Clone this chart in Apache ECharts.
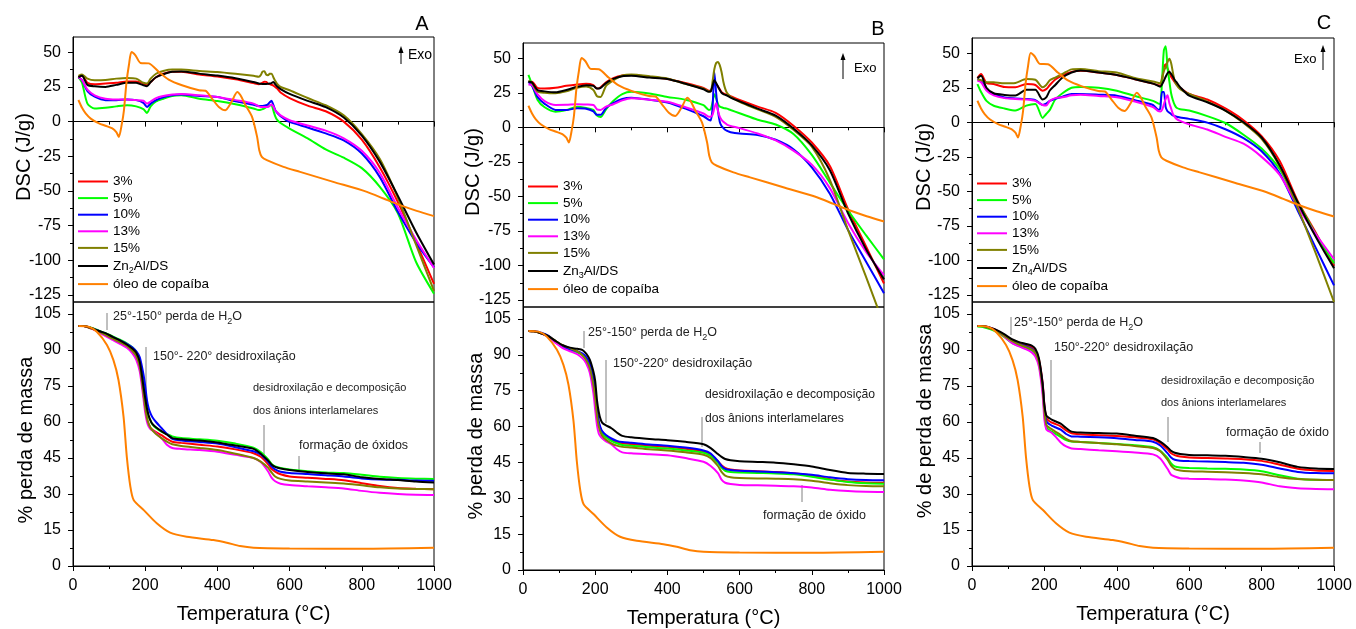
<!DOCTYPE html>
<html>
<head>
<meta charset="utf-8">
<title>DSC / TGA - Zn-Al/DS</title>
<script src="https://cdn.jsdelivr.net/npm/echarts@6/dist/echarts.min.js"></script>
<style>
    html, body { margin: 0; padding: 0; background: #fff; }
    #chart { width: 1356px; height: 629px; }
</style>
</head>
<body>
<div id="chart"></div>
<script>
// temperatures (°C) shared by the sample curves
const dscTemp = [15, 25, 40, 60, 90, 120, 150, 175, 195, 205, 215, 230, 250, 275, 300, 350, 400, 450, 500, 515,
    520, 525, 530, 535, 540, 545, 550, 555, 560, 565, 575, 600, 650, 700, 750, 800, 850, 900, 950, 1000];
const tgaTemp = [15, 30, 50, 70, 90, 110, 130, 150, 165, 175, 185, 195, 200, 205, 210, 215, 220, 230, 245, 260,
    275, 300, 350, 400, 450, 500, 520, 540, 550, 560, 575, 600, 650, 700, 750, 800, 850, 900, 950, 1000];

// óleo de copaíba (same oil in the three panels)
const oilDscTemp = [15, 25, 35, 50, 72, 90, 109, 120, 127, 135, 141, 148, 155, 162, 173, 187, 210, 238, 265, 302,
    349, 367, 385, 404, 422, 439, 455, 464, 478, 496, 510, 516, 523, 537, 583, 629, 721, 814, 860, 906, 952, 1000];
const oilDsc = [15.6, 10, 6, 2, -1.3, -3, -4.9, -7.5, -11, -2, 8, 28, 41, 50.2, 47.8, 42.3, 42, 35.8, 30.3, 26.2,
    22.6, 22.3, 16.6, 10.6, 8.2, 14.2, 21.4, 19, 11.8, 3.4, -11, -20.6, -25.4, -27.8, -32.6, -36.2, -43.4, -50.6, -55.4, -60.2, -64.3, -68.1];
const oilTgaTemp = [15, 43, 66, 94, 112, 126, 140, 149, 159, 168, 196, 232, 269, 315, 389, 426, 463, 500, 600, 800, 1000];
const oilTga = [100, 99.7, 97.6, 92.1, 85.8, 77.5, 62.2, 45.6, 33, 27.5, 23.3, 17.8, 13.9, 12.2, 10.8, 9.7, 8.3, 7.6, 7.3, 7.2, 7.6];

// panel A - DSC (J/g)
const dscA_3 = [32, 33, 28, 27, 27.5, 28, 29, 29, 27.5, 26.5, 28.5, 32, 34.5, 36, 36, 34, 32.5, 30.5, 27.8, 27,
    27.3, 28, 28.8, 28.6, 27.5, 27, 26.5, 26, 25, 24, 21, 17, 11.5, 7.5, 0, -13, -33, -58, -87, -117];
const dscA_5 = [32, 28, 13, 9.5, 10, 11, 11.8, 11, 9, 6.3, 11, 14.5, 16.5, 18.5, 19, 16.5, 14.8, 12.5, 9.5, 8.3,
    8.5, 9, 9.5, 10.5, 11.1, 11.8, 11.8, 8, 4, 1.5, -1, -5, -12, -20, -26, -33.5, -47, -66, -101, -124];
const dscA_10 = [32, 30, 22, 18, 15.5, 15.5, 16, 15.5, 13.5, 10.6, 13, 15.5, 17.5, 19, 19.5, 18.5, 17.8, 14.6, 12.2, 11.2,
    11.2, 11.2, 11.5, 11.8, 12.5, 14, 15, 12, 8.5, 6.5, 4, -0.2, -4.2, -8.5, -13.5, -23, -40, -65, -87, -105];
const dscA_13 = [32, 30, 23, 19, 16.5, 16, 16, 15.5, 15, 13, 14.5, 17, 18.5, 19.5, 20, 19, 17.8, 15.5, 13, 11,
    10.6, 10.6, 10.6, 10.6, 10.6, 11.5, 12.3, 11, 8.2, 7, 4.5, 1, -2.8, -6.5, -12, -21, -37, -62, -85, -105.5];
const dscA_15 = [33, 34, 31, 29.8, 30, 31, 31.5, 31, 28, 27.5, 31, 34.5, 36.5, 37.5, 37.5, 36.5, 35.8, 34.5, 33, 32.4,
    33.5, 36, 36.3, 34, 33.5, 34.5, 34.6, 32, 29.5, 27.4, 25, 22.6, 17, 11.8, 4.5, -9, -27, -55, -88.5, -122];
const dscA_zn = [32, 33, 26.5, 25.5, 25, 26.5, 28, 28, 26.2, 25.5, 28.5, 32, 34.2, 36, 36.2, 34.6, 33.2, 31.3, 28.5, 27.5,
    27.3, 27.2, 27.2, 27.2, 27.3, 27.5, 27.8, 28.6, 27, 25.5, 23.5, 20, 15, 10.5, 3, -10, -29, -53.5, -79.5, -103];

// panel B - DSC (J/g)
const dscB_3 = [33, 33, 28.5, 28, 28.6, 30, 31, 31.5, 30.5, 28, 29, 32.5, 35.5, 37.5, 37.8, 36.5, 35, 32, 28.5, 26.5,
    26.5, 29.5, 33, 31.5, 29.5, 27.5, 25.5, 24.5, 24, 23.5, 22.5, 19.8, 15, 10.5, 1, -11, -28, -59, -86, -113];
const dscB_5 = [38, 31, 20, 14.5, 11.3, 12.5, 14.9, 14, 12.6, 8.5, 7.5, 13, 19, 24, 25.7, 24.5, 22, 20, 16, 12.6,
    13, 18, 24, 21, 17, 15, 14.5, 14, 13.8, 13.5, 12.5, 10.2, 5.5, 2, -5, -20, -40, -60, -78, -95.5];
const dscB_10 = [33, 30, 22, 17, 12.6, 12.5, 13.8, 13.5, 11.5, 9, 9, 14, 17.5, 20.5, 21.4, 20, 18, 13.5, 8, 5.4,
    5, 14, 40, 25, 12, 4.1, 1, -0.5, -1.8, -2.5, -3.5, -4.5, -5.5, -9, -16, -29, -48, -74, -97, -120];
const dscB_13 = [31, 30.6, 24, 19, 16.2, 16.3, 16.7, 16.5, 16.2, 13, 12.6, 15, 16.7, 19.5, 21, 20, 18.5, 14.5, 10, 7.7,
    7.7, 9, 14, 17.4, 12, 7.7, 5.5, 4, 3, 2, 1, -0.6, -4.5, -9.5, -17, -27, -44, -69, -90, -107];
const dscB_15 = [33.5, 32, 26, 25, 24.6, 26, 28.6, 29.5, 27, 22.5, 22, 30, 34, 37.5, 38.3, 37, 35.3, 31.5, 28, 26,
    26, 33, 42, 46.5, 47.3, 45, 40, 33, 28, 25, 22.1, 18.5, 13, 7.5, -2, -14, -38, -74, -108, -143];
const dscB_zn = [33, 32.5, 27, 26, 25.3, 27, 29.3, 30.5, 30, 28, 28.5, 32, 35, 37, 37.3, 36, 34.9, 31.5, 27.5, 25.8,
    26, 30, 34, 32, 29.5, 27, 25, 24, 23.5, 23, 21.5, 18.8, 13.5, 8.5, -1, -13, -31, -62, -88, -110];

// panel C - DSC (J/g)
const dscC_3 = [32, 34.9, 28.5, 27.7, 25.5, 25.3, 27.7, 27, 22.9, 24, 27, 31, 34, 36.5, 37.3, 36, 34.2, 31.2, 28, 26.8,
    26.5, 30, 40, 42, 39, 36, 33, 31, 29, 27.7, 25, 20.5, 16.5, 10, 1.5, -10, -28, -57, -80, -104];
const dscC_5 = [27.7, 22, 15.5, 12, 10, 8.5, 12.1, 13.3, 3.2, 6, 9, 16.5, 21, 25, 25.5, 25, 22.9, 19, 15.5, 13.5,
    13.3, 30, 52, 55, 40, 30, 21, 16, 12.5, 10.5, 9.5, 8.5, 4.5, -0.5, -9, -19, -34, -58, -81, -102];
const dscC_10 = [31.2, 30, 24, 20.5, 18, 17.3, 16.9, 16, 12.6, 13.5, 15.5, 17, 18.5, 20.5, 20.5, 20, 19.3, 16, 12.5, 9,
    10, 22, 22, 11, 8, 7, 6, 5, 4.5, 4, 3.5, 2.5, -0.2, -5, -11.5, -21, -37, -64, -91, -118];
const dscC_13 = [30, 29, 23, 19.5, 17.5, 16.9, 16.5, 15.5, 12.5, 12.1, 15.5, 17.5, 18.1, 19.5, 20, 19, 18.1, 15, 11, 8,
    7.8, 9, 13, 17, 19.5, 14, 10, 6, 4, 2.5, 1, -1.5, -5.2, -10.5, -15.5, -25, -38, -61, -81, -99];
const dscC_15 = [31.2, 30.5, 29, 28.9, 28.2, 28.5, 31.3, 30.8, 25.3, 27, 30.5, 32.4, 35, 38.3, 38.5, 37, 36, 32, 29.5, 28.5,
    28.2, 32, 37, 40, 43.5, 46, 43, 36, 30, 27, 24, 20.5, 15, 8.5, -0.5, -12, -32, -62, -95, -130];
const dscC_zn = [32, 33.6, 25, 21, 19.8, 19.4, 23.5, 23.5, 16.5, 18, 23, 27, 32.4, 36, 37.5, 36, 34.2, 31.2, 28, 26.3,
    25.8, 27.5, 30.1, 33, 35.5, 36.6, 35, 33, 30.5, 29, 25.5, 19.3, 14.5, 8.5, 0, -11, -31, -58, -83, -105.5];

// panel A - % massa
const tgaA_3 = [100, 100, 99, 97.8, 96.5, 95, 93.5, 92, 90, 88, 83.5, 72, 66, 61.5, 59, 57.5, 56.8, 55.8, 54.5, 53,
    51.8, 51.3, 50.5, 49.8, 48.6, 47, 45.5, 42.5, 40.5, 39.3, 38.2, 37.3, 36.8, 36.3, 35.7, 34.5, 33.3, 32.5, 32.2, 32];
const tgaA_5 = [100, 100, 99.3, 98.2, 97, 95.7, 94.3, 92.7, 91, 89.3, 85.5, 76, 70, 65, 62, 60.5, 59, 57.5, 56, 55,
    54, 53.3, 52.8, 52.2, 51, 49.3, 47.5, 44.5, 42.5, 41.5, 40.8, 40.2, 39.5, 39, 38.7, 38, 37.2, 36.7, 36.4, 36.2];
const tgaA_10 = [100, 100, 99.2, 98, 96.8, 95.3, 94, 92.5, 91, 89.5, 87, 80, 75, 69, 65.5, 63.5, 62, 60, 57.5, 55,
    53, 52.3, 51.7, 51, 49.5, 47.8, 46.5, 43.5, 41.5, 40.3, 39.3, 38.8, 38.3, 37.8, 37.3, 36.5, 36, 35.9, 35.6, 35.5];
const tgaA_13 = [100, 100, 99, 97.5, 95.8, 94.2, 92.6, 90.8, 88.5, 86, 81, 70, 64, 60, 58, 57, 56.5, 55.3, 53.3, 50.5,
    49.2, 48.8, 48.3, 47.6, 46.3, 45, 43.3, 39.5, 36.8, 35.3, 34.3, 33.7, 33.2, 32.8, 32.3, 31.3, 30.5, 30, 29.7, 29.6];
const tgaA_15 = [100, 100, 99, 97.8, 96.3, 94.7, 93.2, 91.6, 89.5, 87.5, 83, 72, 66, 61.5, 59, 57.5, 56.5, 55, 53.3, 51.8,
    50.7, 50, 49.2, 48.3, 46.8, 45, 43.5, 41, 39, 37.3, 36.3, 35.6, 35.2, 34.8, 34.4, 33.6, 32.8, 32.3, 32.1, 32];
const tgaA_zn = [100, 100, 99.2, 98, 97, 95.5, 94, 92.2, 90.5, 89, 85, 75, 70, 65.5, 62.5, 60.5, 59.2, 57.8, 56.2, 54.8,
    53.3, 52.8, 52.3, 51.5, 50.2, 48.8, 46.8, 44, 42.3, 41.3, 40.6, 40, 39.2, 38.6, 38.2, 37, 36.3, 35.8, 35.2, 34.8];

// panel B - % massa
const tgaB_3 = [100, 99.8, 99, 97.8, 95.5, 93.5, 92.2, 91.3, 90, 88.3, 85.5, 79, 73.5, 66, 61.5, 59, 57.5, 56, 54.5, 53.5,
    53, 52.7, 52, 51.5, 50.7, 49.5, 48.2, 45.5, 43.8, 42.7, 42, 41.6, 41.3, 41, 40.5, 39.5, 38, 37, 36.6, 36.5];
const tgaB_5 = [100, 99.8, 99, 97.7, 95.3, 93.3, 92, 91, 89.8, 88, 85, 78.5, 73, 65.5, 61, 58.5, 57, 55.5, 54, 53,
    52.3, 52, 51.3, 50.8, 50, 49, 47.7, 44.8, 42.8, 41.5, 41, 40.8, 40.6, 40.4, 40, 39, 37.8, 36.8, 36.3, 36.1];
const tgaB_10 = [100, 100, 99.3, 98, 95.5, 93.5, 92.3, 91.5, 90.5, 89, 86.5, 80, 75, 67, 62, 59.5, 58, 56.5, 55, 54,
    53.5, 53.2, 52.5, 52, 51.2, 50, 48.7, 45.5, 43.5, 42.3, 41.8, 41.5, 41.2, 40.9, 40.5, 39.8, 38.8, 38, 37.6, 37.5];
const tgaB_13 = [100, 99.8, 99, 97.5, 95, 92.8, 91.5, 90.3, 88.5, 86.5, 82.5, 74, 67, 60.5, 57, 55.8, 55, 53.8, 52.5, 50.5,
    49.2, 48.8, 48.4, 48, 46.8, 45.3, 43.5, 40.5, 37.8, 36.5, 36, 35.6, 35.4, 35.2, 35, 34.5, 33.6, 33, 32.7, 32.6];
const tgaB_15 = [100, 99.8, 99, 97.8, 95.8, 94, 92.8, 91.5, 89.8, 87.8, 84.5, 77.5, 72, 64.5, 60, 57.5, 56, 54.5, 53, 52,
    51.5, 51.2, 50.5, 50, 49.2, 48.2, 46.8, 43.5, 41, 39.5, 38.8, 38.5, 38.3, 38.2, 38, 37.3, 36.3, 35.5, 35.1, 35];
const tgaB_zn = [100, 99.8, 99, 97.8, 95.8, 94, 93, 92.5, 92, 90.5, 88, 83, 79, 71, 66, 63, 61.5, 60.5, 59.3, 57.5,
    56.1, 55.5, 54.8, 54.3, 53.6, 52.6, 51, 48.5, 47.3, 46.4, 45.9, 45.5, 45.2, 44.9, 44.2, 43.3, 41.8, 40.6, 40.3, 40.2];

// panel C - % massa
const tgaC_3 = [100, 100, 99.2, 98, 96.2, 94.3, 93, 92, 91.2, 89.8, 86, 76.5, 67, 61.8, 60.8, 60.2, 59.8, 59.2, 58.2, 56.5,
    55.3, 54.9, 54.5, 54.2, 53.6, 52.8, 51.2, 48.6, 47, 46.2, 45.6, 45.2, 45, 44.8, 44.5, 43.8, 42.2, 40.5, 39.8, 39.6];
const tgaC_5 = [99.8, 99.6, 98.7, 97.3, 95.3, 93, 91.7, 90.7, 89.8, 88.3, 84, 73.5, 63.5, 58, 57, 56.5, 56, 55.2, 53.8, 52.5,
    51.9, 51.7, 51.2, 50.8, 50.3, 49.5, 48, 45, 42.8, 41.5, 41, 40.8, 40.6, 40.5, 40.2, 39.5, 37.8, 36.4, 35.9, 35.8];
const tgaC_10 = [100, 100, 99.2, 97.8, 95.8, 93.8, 92.5, 91.5, 90.5, 89, 85, 75.5, 66, 60.5, 59.5, 59, 58.5, 57.8, 56.8, 55,
    54, 53.9, 53.6, 53.2, 52.5, 51.8, 50.2, 47, 45.2, 44.3, 43.9, 43.7, 43.5, 43.3, 43, 42.2, 40.6, 39.2, 38.7, 38.6];
const tgaC_13 = [100, 100, 99.3, 98, 95.5, 93, 91.5, 90.3, 89, 87.3, 83, 71.5, 61, 57, 56.3, 56, 55.5, 54, 51.5, 49.8,
    49, 48.7, 48.2, 47.8, 47.3, 46.5, 44.8, 40.5, 38, 37.3, 36.6, 36.4, 36.2, 36, 35.6, 34.8, 33.2, 32.4, 32.1, 32];
const tgaC_15 = [100, 100, 99, 97.8, 95.8, 93.8, 92.3, 91.2, 90.2, 88.8, 84.8, 74.5, 64.5, 59, 58, 57.5, 57, 56, 54.6, 53,
    52, 51.7, 51.2, 50.7, 50, 49.2, 47.8, 44.3, 41.8, 40.4, 39.8, 39.5, 39.3, 39.1, 38.8, 38.2, 37, 36.2, 35.9, 35.8];
const tgaC_zn = [100, 100, 99.3, 98.2, 96.5, 94.5, 93.3, 92.5, 91.8, 90.5, 86.5, 76, 67, 62.8, 62, 61.5, 61, 60.3, 59.3, 57.5,
    56, 55.6, 55.4, 55.2, 54.3, 53.3, 51.8, 49.5, 48, 47.2, 46.7, 46.3, 46.1, 45.9, 45.4, 44.7, 43.2, 41.3, 40.6, 40.4];

// tick labels
const dscTicks = [-125, -100, -75, -50, -25, 0, 25, 50];
const dscMinor = [-112.5, -87.5, -62.5, -37.5, -12.5, 12.5, 37.5];
const tgaTicks = [0, 15, 30, 45, 60, 75, 90, 105];
const tgaMinor = [7.5, 22.5, 37.5, 52.5, 67.5, 82.5, 97.5];

const sampleNames = ['3%', '5%', '10%', '13%', '15%'];
const oilName = 'óleo de copaíba';
const colors = ['#ff0000', '#00ff00', '#0000ff', '#ff00ff', '#808000', '#000000'];
const oilColor = '#ff8000';
const FONT = "'Liberation Sans', Arial, sans-serif";

let panels = [
    {
        letter: 'A', zn: 'Zn2Al/DS', left: 73, width: 361,
        dscTop: 37, dscH: 265, tgaTop: 302, tgaH: 264, legendTop: 169,
        dsc: [dscA_3, dscA_5, dscA_10, dscA_13, dscA_15, dscA_zn],
        tga: [tgaA_3, tgaA_5, tgaA_10, tgaA_13, tgaA_15, tgaA_zn]
    },
    {
        letter: 'B', zn: 'Zn3Al/DS', left: 523, width: 361,
        dscTop: 43, dscH: 264, tgaTop: 307, tgaH: 265, legendTop: 174,
        dsc: [dscB_3, dscB_5, dscB_10, dscB_13, dscB_15, dscB_zn],
        tga: [tgaB_3, tgaB_5, tgaB_10, tgaB_13, tgaB_15, tgaB_zn]
    },
    {
        letter: 'C', zn: 'Zn4Al/DS', left: 972, width: 362,
        dscTop: 38, dscH: 264, tgaTop: 302, tgaH: 264, legendTop: 171,
        dsc: [dscC_3, dscC_5, dscC_10, dscC_13, dscC_15, dscC_zn],
        tga: [tgaC_3, tgaC_5, tgaC_10, tgaC_13, tgaC_15, tgaC_zn]
    }
];

function pairs(xs, ys) {
    return xs.map(function (x, i) {
        return [x, ys[i]];
    });
}

function lineSeries(name, color, g, temps, vals) {
    return {
        type: 'line', name: name,
        xAxisIndex: g, yAxisIndex: 2 * g,
        data: pairs(temps, vals),
        symbol: 'none', smooth: 0.25,
        lineStyle: {width: 2, color: color},
        itemStyle: {color: color},
        silent: true
    };
}

function xAxisFor(g, withLabels) {
    return {
        type: 'value', gridIndex: g, min: 0, max: 1000, interval: 200,
        axisLine: {lineStyle: {color: '#000', width: 1}},
        axisTick: {length: 5, lineStyle: {color: '#000'}},
        minorTick: {show: true, splitNumber: 2, length: 3, lineStyle: {color: '#000'}},
        axisLabel: {
            show: withLabels, fontSize: 16, color: '#000', fontFamily: FONT, margin: 12,
            formatter: function (v) { return String(v); }
        },
        splitLine: {show: false},
        name: withLabels ? 'Temperatura (°C)' : '',
        nameLocation: 'middle', nameGap: 38,
        nameTextStyle: {fontSize: 20, color: '#000', fontFamily: FONT}
    };
}

function yAxesFor(g, min, max, ticks, minor) {
    let main = {
        type: 'value', gridIndex: g, min: min, max: max, position: 'left',
        axisLine: {show: true, lineStyle: {color: '#000', width: 1}},
        axisTick: {show: true, length: 5, customValues: ticks, lineStyle: {color: '#000'}},
        axisLabel: {
            customValues: ticks, fontSize: 16, color: '#000', fontFamily: FONT, margin: 12,
            formatter: function (v) { return String(v); }
        },
        splitLine: {show: false}
    };
    // second axis only carries the short ticks between labels
    let small = {
        type: 'value', gridIndex: g, min: min, max: max, position: 'left', offset: 0,
        axisLine: {show: false},
        axisTick: {show: true, length: 3, customValues: minor, lineStyle: {color: '#000'}},
        axisLabel: {show: false},
        splitLine: {show: false}
    };
    return [main, small];
}

function legendLabel(name) {
    let m = name.match(/^Zn(\d)(Al\/DS)$/);
    if (m)
        return '{n|Zn}{s|' + m[1] + '}{n|' + m[2] + '}';
    return name;
}

let grids = [], xAxes = [], yAxes = [], series = [], legends = [], graphics = [];

panels.forEach(function (p, k) {
    let gd = 2 * k, gt = 2 * k + 1;
    grids.push({left: p.left, top: p.dscTop, width: p.width, height: p.dscH,
        show: true, borderColor: '#000', borderWidth: 1, backgroundColor: 'transparent'});
    grids.push({left: p.left, top: p.tgaTop, width: p.width, height: p.tgaH,
        show: true, borderColor: '#000', borderWidth: 1, backgroundColor: 'transparent'});

    xAxes.push(xAxisFor(gd, false));
    xAxes.push(xAxisFor(gt, true));
    yAxes.push.apply(yAxes, yAxesFor(gd, -130, 61, dscTicks, dscMinor));
    yAxes.push.apply(yAxes, yAxesFor(gt, 0, 110, tgaTicks, tgaMinor));

    let names = sampleNames.concat([p.zn]);
    names.forEach(function (n, i) {
        series.push(lineSeries(n, colors[i], gd, dscTemp, p.dsc[i]));
    });
    series.push(lineSeries(oilName, oilColor, gd, oilDscTemp, oilDsc));
    names.forEach(function (n, i) {
        series.push(lineSeries(n, colors[i], gt, tgaTemp, p.tga[i]));
    });
    series.push(lineSeries(oilName, oilColor, gt, oilTgaTemp, oilTga));

    legends.push({
        orient: 'vertical', left: p.left, top: p.legendTop,
        icon: 'rect', itemWidth: 30, itemHeight: 2, itemGap: 1.6,
        data: names.concat([oilName]),
        formatter: legendLabel,
        selectedMode: false,
        textStyle: {
            fontSize: 13.5, color: '#000', fontFamily: FONT, lineHeight: 15,
            rich: {
                n: {fontSize: 13.5, fontFamily: FONT, color: '#000', lineHeight: 18},
                s: {fontSize: 9, fontFamily: FONT, color: '#000', lineHeight: 8, verticalAlign: 'bottom'}
            }
        }
    });
});

function txt(x, y, text, size, opts) {
    opts = opts || {};
    return {
        type: 'text', x: x, y: y, rotation: opts.rotation || 0, silent: true,
        style: {
            text: text, fill: opts.fill || '#000',
            fontSize: size, fontFamily: FONT,
            textAlign: opts.align || 'left', align: opts.align || 'left',
            textVerticalAlign: 'middle', verticalAlign: 'middle',
            rich: opts.rich
        }
    };
}

function vline(x, y1, y2, color) {
    return {
        type: 'line', silent: true,
        shape: {x1: x, y1: y1, x2: x, y2: y2},
        style: {stroke: color || '#808080', lineWidth: 1}
    };
}

function arrowUp(x, yTop, yBottom) {
    return [
        vline(x, yTop + 4, yBottom, '#000'),
        {
            type: 'polygon', silent: true,
            shape: {points: [[x - 2.5, yTop + 7], [x, yTop], [x + 2.5, yTop + 7]]},
            style: {fill: '#000'}
        }
    ];
}

let waterRich = {
    a: {fontSize: 12.5, fontFamily: FONT, fill: '#222', color: '#222', lineHeight: 18},
    s: {fontSize: 9, fontFamily: FONT, fill: '#222', color: '#222', lineHeight: 7, verticalAlign: 'bottom'}
};
function water(x, y) {
    return txt(x, y, '{a|25°-150° perda de H}{s|2}{a|O}', 12.5, {rich: waterRich, fill: '#222'});
}

// panel letters, axis titles and Exo arrows
graphics.push(txt(422, 24, 'A', 20, {align: 'center'}));
graphics.push(txt(878, 29, 'B', 20, {align: 'center'}));
graphics.push(txt(1324, 23, 'C', 20, {align: 'center'}));

graphics.push(txt(24, 157, 'DSC (J/g)', 20, {align: 'center', rotation: Math.PI / 2}));
graphics.push(txt(473, 172, 'DSC (J/g)', 20, {align: 'center', rotation: Math.PI / 2}));
graphics.push(txt(924, 167, 'DSC (J/g)', 20, {align: 'center', rotation: Math.PI / 2}));
graphics.push(txt(26, 440, '% perda de massa', 20, {align: 'center', rotation: Math.PI / 2}));
graphics.push(txt(476, 436, '% perda de massa', 20, {align: 'center', rotation: Math.PI / 2}));
graphics.push(txt(925, 421, '% de perda de massa', 20, {align: 'center', rotation: Math.PI / 2}));

graphics.push(txt(408, 55, 'Exo', 14));
graphics.push.apply(graphics, arrowUp(401, 46, 64));
graphics.push(txt(854, 68, 'Exo', 13));
graphics.push.apply(graphics, arrowUp(843, 53, 79));
graphics.push(txt(1294, 59, 'Exo', 13));
graphics.push.apply(graphics, arrowUp(1323, 45, 70));

// notes on the mass loss plots
// A
graphics.push(water(113, 317));
graphics.push(vline(107, 313, 330));
graphics.push(txt(153, 357, '150°- 220° desidroxilação', 12.5, {fill: '#222'}));
graphics.push(vline(146, 347, 392));
graphics.push(txt(253, 388, 'desidroxilação e decomposição', 11, {fill: '#222'}));
graphics.push(txt(253, 411, 'dos ânions interlamelares', 11, {fill: '#222'}));
graphics.push(vline(264, 425, 455));
graphics.push(txt(299, 446, 'formação de óxidos', 12.5, {fill: '#222'}));
graphics.push(vline(299, 456, 470));
// B
graphics.push(water(588, 333));
graphics.push(vline(584, 331, 348));
graphics.push(txt(613, 364, '150°-220° desidroxilação', 12.5, {fill: '#222'}));
graphics.push(vline(606, 360, 423));
graphics.push(txt(705, 395, 'desidroxilação e decomposição', 12.2, {fill: '#222'}));
graphics.push(txt(705, 419, 'dos ânions interlamelares', 12.2, {fill: '#222'}));
graphics.push(vline(702, 417, 447));
graphics.push(txt(763, 516, 'formação de óxido', 12.5, {fill: '#222'}));
graphics.push(vline(802, 485, 502));
// C
graphics.push(water(1014, 323));
graphics.push(vline(1011, 317, 335));
graphics.push(txt(1054, 348, '150°-220° desidroxilação', 12.5, {fill: '#222'}));
graphics.push(vline(1051, 360, 415));
graphics.push(txt(1161, 381, 'desidroxilação e decomposição', 11, {fill: '#222'}));
graphics.push(txt(1161, 403, 'dos ânions interlamelares', 11, {fill: '#222'}));
graphics.push(vline(1168, 417, 442));
graphics.push(txt(1226, 433, 'formação de óxido', 12.5, {fill: '#222'}));
graphics.push(vline(1260, 442, 453));

let chart = echarts.init(document.getElementById('chart'), null, {renderer: 'canvas'});
chart.setOption({
    animation: false,
    backgroundColor: '#fff',
    textStyle: {fontFamily: FONT},
    grid: grids,
    xAxis: xAxes,
    yAxis: yAxes,
    legend: legends,
    series: series,
    graphic: graphics
});
</script>
</body>
</html>
